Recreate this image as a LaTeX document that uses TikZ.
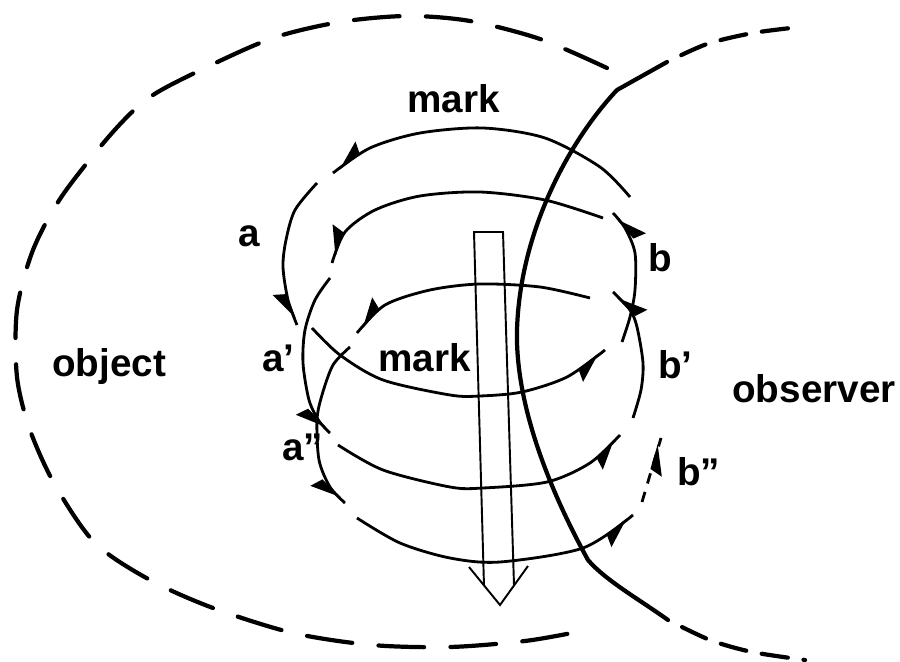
\documentclass[tikz,border=0pt]{standalone}
\usepackage{fontspec}
\setmainfont{Liberation Sans}
\usetikzlibrary{arrows.meta, decorations.markings}

\begin{document}
\begin{tikzpicture}[
    x=0.02cm, y=-0.02cm,
    font=\fontsize{22}{26}\selectfont\bfseries,
    flow/.style={line width=1.6pt, postaction={decorate},
        decoration={markings, mark=at position -4pt with {\arrow{Stealth[harpoon, swap, length=15pt, width=13pt, inset=2pt]}}}},
    boundary/.style={line width=2.4pt, line cap=round},
    objdash/.style={line width=2.4pt, line cap=round, dash pattern=on 26pt off 15pt},
    obsdash/.style={line width=2.4pt, line cap=round, dash pattern=on 15pt off 9pt, dash phase=15pt},
    hollow/.style={line width=1.1pt, line join=miter},
    tag/.style={inner sep=0pt, anchor=base west}
]
    \useasboundingbox (0,0) rectangle (900,662);

    % Object (dashed outline)
    \draw [objdash] plot [smooth] coordinates {
        (607,68) (540,39) (470,21) (407,16) (340,22) (273,38) (205,68) (150,97)
        (112,133) (62,196) (33,250) (17,310) (17,377) (30,430) (55,485) (95,543)
        (150,580) (213,608) (293,633) (372,645) (450,647) (525,641) (577,632)
    };

    % Observer (solid boundary, dashed ends)
    \draw [boundary] (667,62) -- (617,90)
        .. controls (570,140) and (520,230) .. (517,330)
        .. controls (515,410) and (555,500) .. (588,560)
        .. controls (605,580) and (640,600) .. (668,620);
    \draw [obsdash] plot [smooth] coordinates {(667,62) (707,44) (753,33) (800,27)};
    \draw [obsdash] plot [smooth] coordinates {(668,620) (710,640) (752,652) (805,660)};

    % Back arcs
    \draw [flow] plot [smooth] coordinates {(630,197) (600,167) (545,138) (483,128) (420,133) (370,148) (333,173)};
    \draw [flow] plot [smooth] coordinates {(603,218) (545,200) (480,192) (420,196) (375,210) (345,232) (332,263)};
    \draw [flow] plot [smooth] coordinates {(590,298) (540,287) (480,284) (430,290) (385,305) (357,333)};

    % Front arcs
    \draw [flow] plot [smooth] coordinates {(312,328) (340,355) (383,380) (450,395) (480,396) (522,392) (567,377) (605,350)};
    \draw [flow] plot [smooth] coordinates {(338,445) (383,470) (450,487) (483,488) (547,482) (590,463) (620,435)};
    \draw [flow] plot [smooth] coordinates {(357,518) (400,543) (450,558) (500,562) (583,548) (633,515)};

    % Left side (a, a', a'')
    \draw [flow] plot [smooth] coordinates {(317,183) (295,210) (286,240) (283,267) (288,300) (297,325)};
    \draw [flow] plot [smooth] coordinates {(330,278) (315,300) (305,330) (303,363) (309,400) (319,421) (330,433)};
    \draw [flow] plot [smooth] coordinates {(350,347) (333,365) (322,395) (317,420) (319,460) (330,487) (345,503)};

    % Right side (b, b', b'')
    \draw [flow] plot [smooth] coordinates {(622,342) (630,317) (635,290) (635,253) (625,228) (613,213)};
    \draw [flow] plot [smooth] coordinates {(633,418) (641,390) (643,363) (637,327) (630,310) (613,292)};
    \draw [flow, dash pattern=on 6pt off 5pt] plot [smooth] coordinates {(642,502) (650,475) (656,455) (661,438)};

    % Hollow arrow
    \draw [hollow] (484,586) -- (474,232) -- (503,232) -- (514,585);
    \draw [hollow] (469,567) -- (500,605) -- (528,566);

    % Labels
    \foreach \nm/\px/\py/\txt in {markTop/407/113/mark, markMid/378/372/mark,
        a/238/247/a, a1/262/372/a', a2/282/460/a'',
        b/648/272/b, b1/658/378/b', b2/677/485/b'',
        object/52/377/object, observer/732/402/observer} {
        \node [tag] (\nm) at (\px,\py) {\txt};
    }
\end{tikzpicture}
\end{document}
